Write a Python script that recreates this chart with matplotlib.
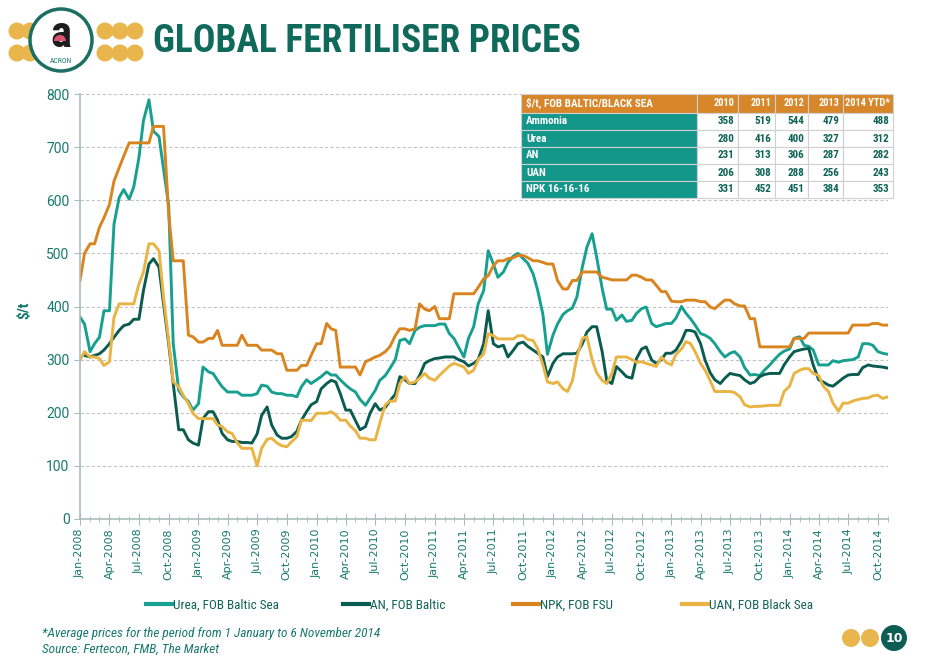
import matplotlib.pyplot as plt
import matplotlib.dates as mdates
from matplotlib.patches import Circle, Rectangle, Wedge
from matplotlib.lines import Line2D
import numpy as np
import pandas as pd
import logging

logging.getLogger("matplotlib.font_manager").setLevel(logging.ERROR)

# semi-monthly observations, 1 Jan 2008 .. 1 Nov 2014
dates = pd.date_range("2008-01-01", "2014-11-01", freq="SMS")
nan = np.nan

urea = [
    380, 367, 315, 330, 342, 392, 392, 555, 605, 620, 602, 625, 680, 750, 789, 730, 720, 660, 590, 330, 242, 230, 221, 205,  # 2008
    217, 286, 277, 274, 261, 249, 239, 239, 239, 233, 233, 233, 236, 252, 250, 239, 236, 236, 233, 233, 230, 249, 262, 255,  # 2009
    262, 268, 277, 271, 271, 262, 252, 245, 239, 225, 214, 227, 242, 261, 270, 283, 300, 336, 339, 330, 355, 361, 364, 364,  # 2010
    364, 367, 367, 349, 340, 324, 305, 340, 362, 405, 430, 505, 480, 455, 465, 483, 495, 500, 490, 482, 461, 430, 385, 310,  # 2011
    346, 367, 385, 392, 397, 418, 475, 512, 537, 493, 434, 395, 395, 374, 384, 372, 374, 387, 396, 399, 368, 362, 365, 368,  # 2012
    368, 378, 400, 387, 377, 365, 349, 346, 340, 330, 315, 305, 312, 315, 305, 285, 271, 272, 270, 280, 290, 300, 310, 316,  # 2013
    320, 340, 343, 327, 325, 318, 290, 290, 290, 298, 295, 298, 299, 300, 305, 330, 330, 327, 315, 312, 310,  # 2014
]
an = [
    nan, 308, 305, 308, 311, 318, 330, 342, 355, 364, 367, 376, 376, 430, 480, 490, 474, 405, 330, 255, 168, 168, 149, 143,
    139, 189, 202, 202, 186, 161, 149, 146, 146, 144, 144, 143, 160, 195, 211, 177, 158, 152, 152, 155, 165, 186, 202, 215,
    221, 245, 255, 261, 258, 236, 205, 205, 185, 168, 174, 199, 217, 205, 210, 222, 235, 268, 262, 255, 255, 270, 293, 298,
    302, 303, 305, 305, 305, 300, 296, 288, 293, 300, 330, 392, 330, 324, 327, 305, 318, 330, 333, 325, 318, 312, 305, 268,
    293, 305, 311, 311, 311, 312, 330, 352, 362, 362, 315, 261, 255, 287, 277, 268, 265, 302, 320, 324, 299, 293, 300, 312,
    312, 318, 335, 355, 355, 352, 330, 299, 275, 262, 255, 265, 274, 272, 270, 262, 255, 258, 268, 272, 274, 274, 274, 290,
    305, 315, 318, 320, 321, 290, 262, 258, 252, 250, 258, 265, 271, 272, 272, 285, 290, 288, 287, 286, 284,
]
npk = [
    449, 500, 518, 518, 549, 567, 592, 636, 661, 683, 708, 708, 708, 708, 708, 739, 739, 739, 574, 486, 486, 486, 346, 343,
    333, 333, 340, 340, 355, 327, 327, 327, 327, 346, 327, 327, 327, 318, 318, 318, 311, 311, 280, 280, 280, 289, 289, 308,
    330, 330, 368, 358, 355, 286, 286, 286, 286, 271, 296, 300, 305, 308, 315, 324, 345, 358, 358, 355, 358, 405, 395, 392,
    400, 377, 377, 377, 424, 424, 424, 424, 424, 436, 452, 458, 477, 486, 486, 490, 492, 496, 496, 492, 486, 486, 483, 480,
    480, 449, 433, 433, 449, 449, 465, 465, 465, 465, 455, 453, 450, 450, 450, 450, 459, 459, 455, 450, 450, 440, 428, 428,
    410, 409, 409, 412, 412, 412, 409, 409, 399, 396, 405, 412, 412, 405, 401, 401, 377, 377, 324, 324, 324, 324, 324, 324,
    324, 340, 340, 340, 350, 350, 350, 350, 350, 350, 350, 350, 350, 365, 365, 365, 365, 368, 368, 365, 365,
]
uan = [
    299, 315, 305, 305, 302, 289, 296, 380, 405, 405, 405, 405, 442, 465, 518, 518, 505, 418, 336, 258, 249, 233, 217, 199,
    189, 189, 189, 189, 177, 174, 164, 161, 143, 133, 133, 133, 100, 133, 150, 152, 143, 138, 136, 145, 155, 186, 186, 185,
    199, 199, 199, 202, 196, 186, 186, 175, 166, 152, 152, 149, 149, 180, 215, 222, 222, 255, 268, 255, 258, 265, 274, 265,
    261, 270, 280, 288, 293, 290, 286, 274, 280, 300, 311, 349, 345, 339, 339, 339, 339, 345, 345, 338, 336, 320, 290, 258,
    255, 258, 245, 240, 260, 305, 340, 343, 300, 275, 261, 255, 274, 305, 305, 305, 300, 295, 296, 293, 290, 287, 305, 295,
    290, 310, 320, 334, 330, 315, 293, 280, 260, 240, 240, 240, 240, 238, 230, 215, 211, 212, 212, 213, 214, 214, 214, 240,
    250, 274, 280, 283, 283, 274, 270, 250, 240, 218, 203, 218, 218, 222, 225, 227, 228, 232, 233, 227, 230,
]

series_names = ["Urea, FOB Baltic Sea", "AN, FOB Baltic", "NPK, FOB FSU", "UAN, FOB Black Sea"]
series_colors = ["#17a08f", "#0b5c50", "#d9841f", "#e9b444"]

# summary table
table_title = "\\$/t, FOB BALTIC/BLACK SEA"
table_years = ["2010", "2011", "2012", "2013", "2014 YTD*"]
table_products = ["Ammonia", "Urea", "AN", "UAN", "NPK 16-16-16"]
table_values = [
    [358, 519, 544, 479, 488],
    [280, 416, 400, 327, 312],
    [231, 313, 306, 287, 282],
    [206, 308, 288, 256, 243],
    [331, 452, 451, 384, 353],
]

teal = "#17796d"
dark = "#0f6357"
gold = "#e8b64c"
narrow = ["Liberation Sans Narrow", "Roboto Condensed", "Roboto", "DejaVu Sans"]

W, H = 946, 661
fig = plt.figure(figsize=(W / 100, H / 100), dpi=100)
ax = fig.add_axes([80 / W, 1 - 519 / H, 808 / W, 425 / H])

for vals, c, name in zip([urea, an, npk, uan], series_colors, series_names):
    ax.plot(dates, vals, color=c, lw=2.1, label=name, solid_joinstyle="round")

ax.set_ylim(0, 800)
ax.set_xlim(dates[0], dates[-1])
ax.set_yticks(range(0, 801, 100))
ax.yaxis.grid(True, color="#c4c4c4", lw=0.8, ls=(0, (3, 2)))
ax.set_axisbelow(True)

ax.xaxis.set_major_locator(mdates.MonthLocator(bymonth=[1, 4, 7, 10]))
ax.xaxis.set_major_formatter(mdates.DateFormatter("%b-%Y"))
ax.xaxis.set_minor_locator(mdates.MonthLocator())
plt.setp(ax.get_xticklabels(), rotation=90)
ax.tick_params(axis="x", which="major", direction="inout", length=8, color="#a9bdbb",
               labelcolor=teal, labelsize=8, pad=3)
ax.tick_params(axis="x", which="minor", direction="inout", length=4, color="#a9bdbb")
ax.tick_params(axis="y", direction="out", length=4, color="#a9bdbb", labelcolor=teal, labelsize=10)
for lab in ax.get_yticklabels():
    lab.set_family(["Roboto", "DejaVu Sans"])

for s in ["top", "right"]:
    ax.spines[s].set_visible(False)
for s in ["left", "bottom"]:
    ax.spines[s].set_color("#a9bdbb")
    ax.spines[s].set_linewidth(1.2)

fig.text(24 / W, 1 - 310 / H, "\\$/t", rotation=90, fontsize=11, fontweight="bold",
         color=teal, ha="center", va="center", family=narrow)

# title
fig.text(153 / W, 1 - 42 / H, "GLOBAL FERTILISER PRICES", fontsize=27, fontweight="bold",
         color="#0f6a5c", family=narrow, va="center", ha="left")

# legend, one entry each so they sit where the slide puts them
for x, c, name in zip([146, 343, 513, 682], series_colors, series_names):
    fig.legend(handles=[Line2D([], [], color=c, lw=3)], labels=[name], loc="center left",
               bbox_to_anchor=(x / W, 1 - 605 / H), frameon=False, borderpad=0, borderaxespad=0,
               handlelength=2.0, handletextpad=0.05, prop={"family": narrow, "size": 9.5},
               labelcolor=dark)

# footnotes
fig.text(42 / W, 1 - 633 / H, "*Average prices for the period from 1 January to 6 November 2014",
         fontsize=9.5, style="italic", color=teal, family=narrow, va="center")
fig.text(42 / W, 1 - 649 / H, "Source: Fertecon, FMB, The Market",
         fontsize=9.5, style="italic", color=teal, family=narrow, va="center")

# overlay in pixel coordinates for logo, table, page number
ov = fig.add_axes([0, 0, 1, 1], zorder=5)
ov.set_xlim(0, W)
ov.set_ylim(H, 0)
ov.axis("off")

for cy in [31, 53]:
    for cx in [17, 30, 105, 120, 135]:
        ov.add_patch(Circle((cx, cy), 8.5, color=gold, lw=0))
ov.add_patch(Circle((61, 40), 31, facecolor="white", edgecolor="#1b6e62", lw=2.5))
ov.text(61, 35, "a", fontsize=32, fontweight="bold", color="#1d1d1d", ha="center", va="center",
        family=narrow)
ov.add_patch(Wedge((60, 41), 6, 180, 360, color="#d9556f", lw=0, zorder=3))
ov.text(61, 61, "ACRON", fontsize=5.5, color=teal, ha="center", va="center", family=narrow)

# table
x0, y0 = 521, 94
col_w = [176, 41, 37, 33, 35, 50]
row_h = [19, 17, 17, 17, 17, 17]
header = [table_title] + table_years
rows = [header] + [[p] + [str(v) for v in vals] for p, vals in zip(table_products, table_values)]
y = y0
for r, row in enumerate(rows):
    x = x0
    for c, txt in enumerate(row):
        if r == 0:
            fc, tc = "#d8862a", "white"
        elif c == 0:
            fc, tc = "#13978a", "white"
        else:
            fc, tc = "white", dark
        fs = 7.5 if r == 0 and c > 0 else 8
        ov.add_patch(Rectangle((x, y), col_w[c], row_h[r], facecolor=fc, edgecolor="#d0d0d0", lw=0.8))
        if c == 0:
            ov.text(x + 5, y + row_h[r] / 2, txt, color=tc, fontsize=fs, fontweight="bold",
                    family=narrow, ha="left", va="center")
        else:
            ov.text(x + col_w[c] - 3.5, y + row_h[r] / 2, txt, color=tc, fontsize=fs, fontweight="bold",
                    family=narrow, ha="right", va="center")
        x += col_w[c]
    y += row_h[r]

# page number
for cx in [851, 870]:
    ov.add_patch(Circle((cx, 638), 9, color=gold, lw=0))
ov.add_patch(Circle((894, 638), 13, color="#0d5e52", lw=0))
ov.text(894, 638, "10", color="white", fontsize=9, fontweight="bold", ha="center", va="center")

fig.savefig("out.png", dpi=100, facecolor="white")
